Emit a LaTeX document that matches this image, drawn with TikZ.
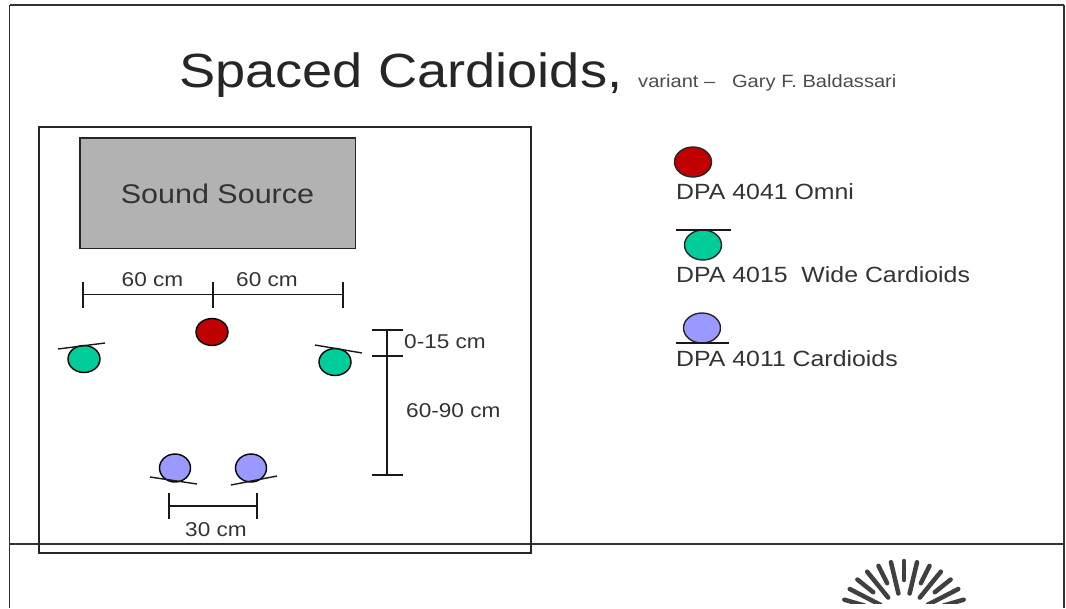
\documentclass[tikz,border=0pt]{standalone}
\usepackage{fontspec}
\usetikzlibrary{shapes.geometric}
\setmainfont[FakeStretch=1.13]{Liberation Sans}
\definecolor{micred}{HTML}{C00000}
\definecolor{micgreen}{HTML}{00CC99}
\definecolor{micblue}{HTML}{9999FF}
\definecolor{srcgray}{HTML}{B2B2B2}
\begin{document}
\begin{tikzpicture}[x=1pt,y=-1pt]
        \tikzstyle{mic} = [ellipse, draw=black, line width=1.4pt, inner sep=0pt, minimum width=32pt, minimum height=27pt]
        \tikzstyle{legendmic} = [ellipse, draw=black!85, line width=1.4pt, inner sep=0pt, minimum width=37pt, minimum height=30pt]
        \tikzstyle{lbltext} = [text=black!80, inner sep=0pt, font=\fontsize{20}{24}\selectfont]
        \tikzstyle{dim} = [black!90, line width=1.4pt]

        \useasboundingbox (0,0) rectangle (1066,608);

        % frame
        \draw[line width=1.5pt, black!80] (9.5,5) -- (1064,5);
        \draw[line width=1.5pt, black!80] (9.5,5) -- (9.5,608);
        \draw[line width=1.5pt, black!80] (1064,5) -- (1064,608);
        \draw[line width=1.2pt, black!80] (9.5,544) -- (1064,544);
        \draw[line width=1.2pt, black!85] (39,127) rectangle (531,553);

        % title
        \node[text=black!85, anchor=base west, inner sep=0pt, font=\fontsize{48}{56}\selectfont] (title) at (179,87) {Spaced Cardioids,};
        \node[text=black!70, anchor=base west, inner sep=0pt, font=\fontsize{17.8}{20}\selectfont] (byline) at (638,87) {variant -- \ \ Gary F. Baldassari};

        % source
        \node[rectangle, draw=black!85, line width=1.5pt, fill=srcgray, anchor=north west, minimum width=275.5pt, minimum height=110.5pt, inner sep=0pt] (source) at (79,137) {};
        \node[lbltext, text=black!80, font=\fontsize{27}{30}\selectfont] at (217.5,194) {Sound Source};

        % microphones
        \node[mic, fill=micred] (omni) at (212,332) {};
        \node[mic, fill=micgreen] (wideL) at (84,359) {};
        \node[mic, fill=micgreen] (wideR) at (335,362) {};
        \node[mic, minimum width=31pt, minimum height=28pt, fill=micblue] (cardL) at (175,468) {};
        \node[mic, minimum width=31pt, minimum height=28pt, fill=micblue] (cardR) at (251,468) {};
        \draw[dim] (58,349) -- (105,343);
        \draw[dim] (315,345) -- (362,353);
        \draw[dim] (150,477) -- (197,484);
        \draw[dim] (231,485) -- (277,476);

        % dimensions
        \coordinate (h1) at (83,294.5);
        \coordinate (h2) at (213,294.5);
        \coordinate (h3) at (343,294.5);
        \draw[dim] (h1) -- (h3);
        \foreach \p in {h1,h2,h3} {
            \draw[dim] ([yshift=-13pt]\p) -- ([yshift=13pt]\p);
        }
        \coordinate (v1) at (387,330);
        \coordinate (v2) at (387,356);
        \coordinate (v3) at (387,475);
        \draw[dim] (v1) -- (v3);
        \foreach \p in {v1,v2,v3} {
            \draw[dim] ([xshift=-15.5pt]\p) -- ([xshift=15.5pt]\p);
        }
        \coordinate (b1) at (169,506);
        \coordinate (b2) at (257,506);
        \draw[dim] (b1) -- (b2);
        \foreach \p in {b1,b2} {
            \draw[dim] ([yshift=-13pt]\p) -- ([yshift=13pt]\p);
        }

        \node[lbltext] (lblA) at (152.5,280) {60 cm};
        \node[lbltext] (lblB) at (267,280) {60 cm};
        \node[lbltext, anchor=west] (lblC) at (404,342) {0-15 cm};
        \node[lbltext, anchor=west] (lblD) at (406,411) {60-90 cm};
        \node[lbltext] (lblE) at (216,530) {30 cm};

        % legend
        \node[legendmic, fill=micred] (legA) at (693,162) {};
        \node[legendmic, fill=micgreen] (legB) at (703,245) {};
        \node[legendmic, fill=micblue] (legC) at (702,328) {};
        \draw[dim] (676,230) -- (731,230);
        \draw[dim] (676,343) -- (729,343);
        \foreach \y/\nome in {
            192/{DPA 4041 Omni},
            275/{DPA 4015 \ Wide Cardioids},
            359/{DPA 4011 Cardioids}
        } {
            \node[lbltext, anchor=west, font=\fontsize{22}{25}\selectfont] at (676, \y) {\nome};
        }

        % logo
        \begin{scope}
            \clip (780,530) rectangle (1000,603);
            \foreach \i in {0,...,12} {
                \pgfmathsetmacro{\ang}{18+\i*12}
                \pgfmathsetmacro{\rin}{mod(\i,2)==0 ? 37 : 24}
                \draw[line width=4.5pt, line cap=round, black!75]
                    ({904+\rin*1.12*cos(\ang)}, {617-\rin*sin(\ang)}) -- ({904+1.12*56*cos(\ang)}, {617-56*sin(\ang)});
            }
        \end{scope}
    \end{tikzpicture}
\end{document}
